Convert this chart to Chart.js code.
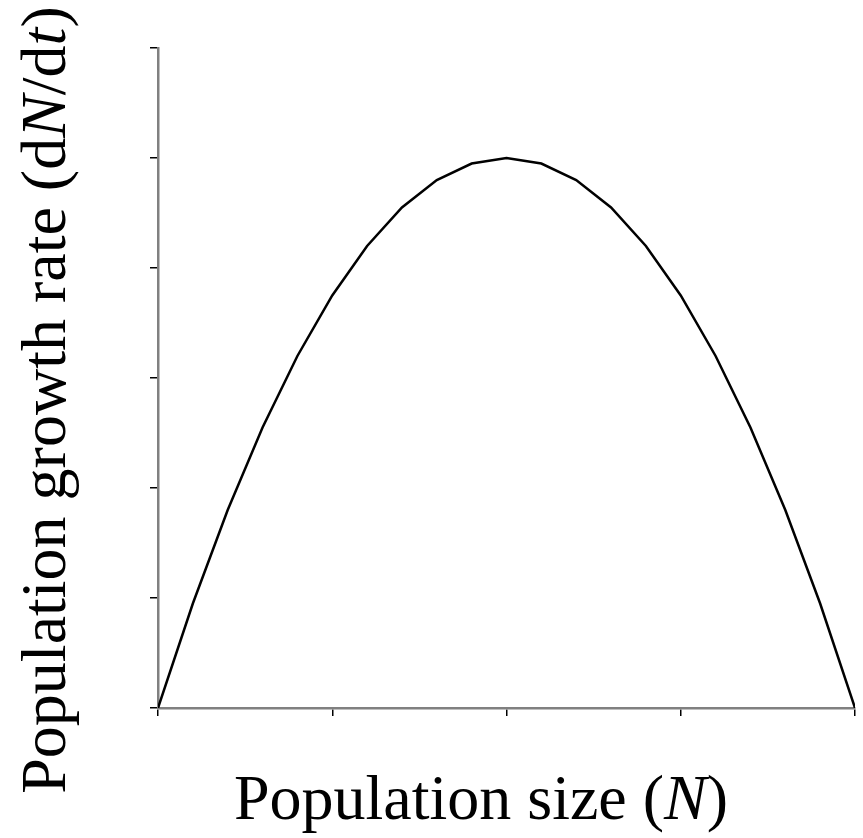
<!DOCTYPE html>
<html>
<head>
<meta charset="utf-8">
<script src="https://cdn.jsdelivr.net/npm/chart.js@4"></script>
<style>
  html, body { margin: 0; padding: 0; background: #fff; }
  #wrap { width: 863px; height: 838px; }
</style>
</head>
<body>
<div id="wrap"><canvas id="growthChart" width="863" height="838"></canvas></div>
<script>
// Population size N and growth rate dN/dt
const sizes = [0, 1, 2, 3, 4, 5, 6, 7, 8, 9, 10, 11, 12, 13, 14, 15, 16, 17, 18, 19, 20];
const rates = [0, 0.95, 1.8, 2.55, 3.2, 3.75, 4.2, 4.55, 4.8, 4.95, 5, 4.95, 4.8, 4.55, 4.2, 3.75, 3.2, 2.55, 1.8, 0.95, 0];
const xTicks = [0, 5, 10, 15, 20];
const yTicks = [0, 1, 2, 3, 4, 5, 6];

const FONT = '"Liberation Serif", "Times New Roman", serif';
const TITLE_SIZE = 64;

// Axis titles with an italic N / t, drawn as text runs
const xTitle = [['Population size (', false], ['N', true], [')', false]];
const yTitle = [['Population growth rate (d', false], ['N', true], ['/d', false], ['t', true], [')', false]];

function runWidth(ctx, runs) {
    let w = 0;
    runs.forEach(([text, italic]) => {
        ctx.font = (italic ? 'italic ' : '') + TITLE_SIZE + 'px ' + FONT;
        w += ctx.measureText(text).width;
    });
    return w;
}

function drawRuns(ctx, runs, cx, baseline) {
    let x = cx - runWidth(ctx, runs) / 2;
    runs.forEach(([text, italic]) => {
        ctx.font = (italic ? 'italic ' : '') + TITLE_SIZE + 'px ' + FONT;
        ctx.fillText(text, x, baseline);
        x += ctx.measureText(text).width;
    });
}

const axisTitles = {
    id: 'axisTitles',
    afterDraw(chart) {
        const ctx = chart.ctx;
        ctx.save();
        ctx.fillStyle = '#000';
        ctx.textAlign = 'left';
        ctx.textBaseline = 'alphabetic';
        drawRuns(ctx, xTitle, 481, 819);
        ctx.translate(65, 400);
        ctx.rotate(-Math.PI / 2);
        drawRuns(ctx, yTitle, 0, 0);
        ctx.restore();
    }
};

new Chart(document.getElementById('growthChart').getContext('2d'), {
    type: 'line',
    data: {
        datasets: [{
            data: sizes.map((n, i) => ({ x: n, y: rates[i] })),
            borderColor: '#000',
            borderWidth: 2.5,
            pointRadius: 0,
            tension: 0,
            fill: false
        }]
    },
    options: {
        responsive: false,
        animation: false,
        layout: { padding: { left: 150, top: 48, right: 8, bottom: 122 } },
        plugins: {
            legend: { display: false },
            tooltip: { enabled: false }
        },
        scales: {
            x: {
                type: 'linear',
                min: 0,
                max: 20,
                afterBuildTicks: axis => { axis.ticks = xTicks.map(v => ({ value: v })); },
                ticks: { display: false },
                grid: { drawOnChartArea: false, drawTicks: true, tickLength: 8, color: '#000', lineWidth: 1.5 },
                border: { color: '#808080', width: 2.5 }
            },
            y: {
                min: 0,
                max: 6,
                afterBuildTicks: axis => { axis.ticks = yTicks.map(v => ({ value: v })); },
                ticks: { display: false },
                grid: { drawOnChartArea: false, drawTicks: true, tickLength: 8, color: '#000', lineWidth: 1.5 },
                border: { color: '#808080', width: 2.5 }
            }
        }
    },
    plugins: [axisTitles]
});
</script>
</body>
</html>
